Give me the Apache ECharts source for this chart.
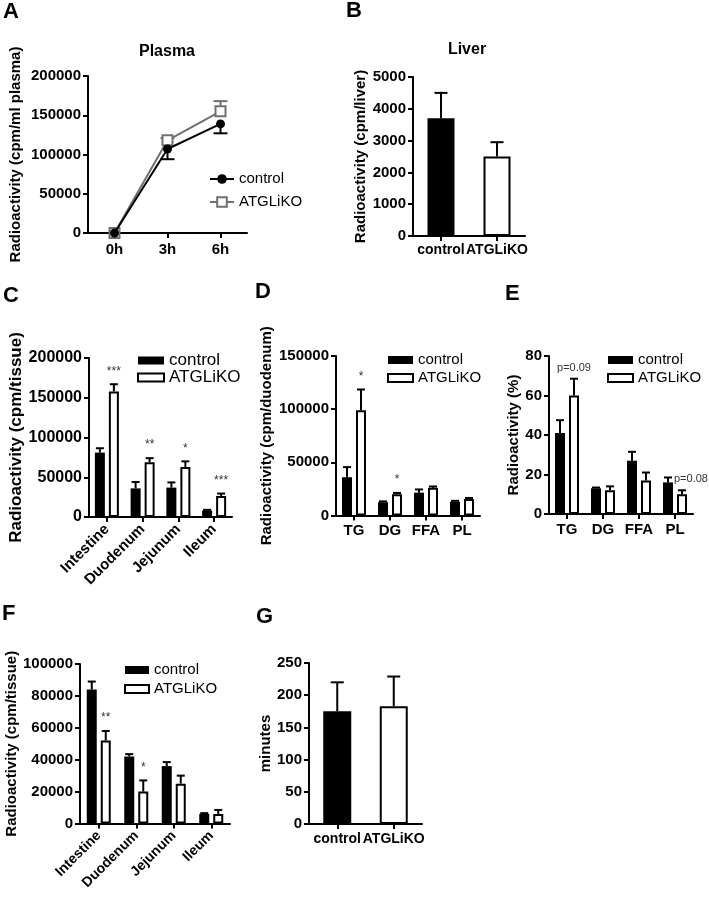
<!DOCTYPE html>
<html><head><meta charset="utf-8">
<script src="https://cdn.jsdelivr.net/npm/echarts@6/dist/echarts.min.js"></script>
<style>html,body{margin:0;padding:0;background:#fff}#c{width:709px;height:900px}</style>
</head><body><div id="c"></div>
<script>
// ---------- DATA ----------
const plasmaCats = ['0h', '3h', '6h'];
const plasmaControl = [0, 107000, 139000];
const plasmaControlErr = [0, 13000, 12000];
const plasmaKO = [0, 118000, 155000];
const plasmaKOErr = [0, 3000, 13000];

const liverCats = ['control', 'ATGLiKO'];
const liverValues = [3700, 2500];
const liverErr = [800, 450];

const tissueCats = ['Intestine', 'Duodenum', 'Jejunum', 'Ileum'];
const cControl = [81000, 36000, 37000, 8000];
const cControlErr = [5500, 8000, 6500, 1000];
const cKO = [158000, 69000, 63000, 26500];
const cKOErr = [9000, 5000, 7000, 3000];
const cStars = ['***', '**', '*', '***'];

const lipidCats = ['TG', 'DG', 'FFA', 'PL'];
const dControl = [36000, 12500, 21500, 13000];
const dControlErr = [9500, 800, 3000, 800];
const dKO = [99000, 20000, 26000, 15500];
const dKOErr = [19500, 1200, 1300, 1000];
const dStars = ['*', '*', '', ''];

const eControl = [41, 13, 27, 16];
const eControlErr = [6.5, 0.4, 4.5, 2.5];
const eKO = [60, 12, 17, 10];
const eKOErr = [8.5, 2, 4, 2];
const eNotes = ['p=0.09', '', '', 'p=0.08'];

const fControl = [84000, 42000, 36000, 6000];
const fControlErr = [5000, 1500, 2500, 500];
const fKO = [52000, 20000, 25000, 6000];
const fKOErr = [6000, 7000, 5000, 2500];
const fStars = ['**', '*', '', ''];

const gCats = ['control', 'ATGLiKO'];
const gValues = [175, 183];
const gErr = [45, 46];

// ---------- STYLE ----------
const FONT = '"Liberation Sans", Arial, Helvetica, sans-serif';
const BLACK = {color: '#000'};
const WHITE = {color: '#fff', borderColor: '#000', borderWidth: 2};
const eNoteAlign = ['center', '', '', 'left'];

const chart = echarts.init(document.getElementById('c'), null, {renderer: 'canvas'});

function vAxis(gi, max, interval, name, nameGap, fs, nfs) {
  return {
    type: 'value', gridIndex: gi, min: 0, max: max, interval: interval,
    name: name, nameLocation: 'middle', nameGap: nameGap, nameRotate: 90,
    nameTextStyle: {fontFamily: FONT, fontWeight: 'bold', fontSize: nfs, color: '#000'},
    axisLine: {show: true, lineStyle: {color: '#000', width: 2}},
    axisTick: {show: true, length: 5, lineStyle: {color: '#000', width: 2}},
    axisLabel: {fontFamily: FONT, fontWeight: 'bold', fontSize: fs, color: '#000', margin: 7,
      formatter: v => String(v)},
    splitLine: {show: false}
  };
}
function cAxis(gi, data, fs, rotate, margin) {
  return {
    type: 'category', gridIndex: gi, data: data,
    axisLine: {show: true, lineStyle: {color: '#000', width: 2}},
    axisTick: {show: true, alignWithLabel: true, length: 5, lineStyle: {color: '#000', width: 2}},
    axisLabel: {fontFamily: FONT, fontWeight: 'bold', fontSize: fs, color: '#000', margin: margin, rotate: rotate || 0, interval: 0},
    splitLine: {show: false}
  };
}
function errBars(gi, values, errs, o) {
  return {
    type: 'custom', xAxisIndex: gi, yAxisIndex: gi, z: o.z || 5, silent: true,
    data: values.map((v, i) => [i, v, errs[i]]),
    renderItem: function (params, api) {
      const i = api.value(0), v = api.value(1), e = api.value(2);
      const b = api.coord([i, v]);
      const t = api.coord([i, v + (o.dir || 1) * e]);
      const x = b[0] + (o.offset || 0);
      const col = o.color || '#000';
      const ch = [];
      if (e > 0) {
        ch.push({type: 'line', shape: {x1: x, y1: b[1], x2: x, y2: t[1]}, style: {stroke: col, lineWidth: 2}});
        ch.push({type: 'line', shape: {x1: x - o.cap / 2, y1: t[1], x2: x + o.cap / 2, y2: t[1]}, style: {stroke: col, lineWidth: 2}});
      }
      const note = o.notes ? o.notes[i] : '';
      if (note) {
        const al = o.align ? (o.align[i] || 'center') : 'center';
        ch.push({type: 'text', x: x + (al === 'left' ? -8 : 0), y: t[1] - o.noteGap,
          style: {text: note, fill: '#333', font: o.noteFont, align: al, verticalAlign: 'middle'}});
      }
      return {type: 'group', children: ch};
    }
  };
}
function barPair(gi, tag, ctrl, ko) {
  return [
    {name: 'control|' + tag, type: 'bar', xAxisIndex: gi, yAxisIndex: gi, data: ctrl,
      barWidth: 10, barGap: '40%', itemStyle: BLACK},
    {name: 'ATGLiKO|' + tag, type: 'bar', xAxisIndex: gi, yAxisIndex: gi, data: ko,
      barWidth: 10, barGap: '40%', itemStyle: WHITE}
  ];
}
function legend(tag, left, top, fs, textGap, iw, ih, gap, icon) {
  const l = {
    orient: 'vertical', left: left, top: top, padding: 0, selectedMode: false,
    data: ['control|' + tag, 'ATGLiKO|' + tag],
    formatter: n => n.split('|')[0],
    itemWidth: iw, itemHeight: ih, itemGap: gap, itemTextGap: textGap,
    textStyle: {fontFamily: FONT, fontSize: fs, color: '#000'}
  };
  if (icon) l.icon = icon;
  return l;
}
function txt(text, x, y, size, align) {
  return {type: 'text', x: x, y: y, silent: true,
    style: {text: text, font: 'bold ' + size + 'px ' + FONT, fill: '#000', align: align || 'left', verticalAlign: 'top'}};
}

const grids = [
  {left: 88, top: 76, width: 159, height: 157},     // A
  {left: 413, top: 77, width: 112, height: 159},    // B
  {left: 89, top: 358, width: 143, height: 159},    // C
  {left: 336, top: 356, width: 144, height: 159.5}, // D
  {left: 549, top: 356, width: 144, height: 158},   // E
  {left: 80, top: 664, width: 150, height: 159.5},  // F
  {left: 309, top: 663, width: 113, height: 161}    // G
];

const xAxes = [
  cAxis(0, plasmaCats, 15, 0, 9),
  cAxis(1, liverCats, 14, 0, 7),
  cAxis(2, tissueCats, 15, 45, 10),
  cAxis(3, lipidCats, 15, 0, 8),
  cAxis(4, lipidCats, 15, 0, 8),
  cAxis(5, tissueCats, 14, 45, 10),
  cAxis(6, gCats, 14, 0, 8)
];
const yAxes = [
  vAxis(0, 200000, 50000, 'Radioactivity (cpm/ml plasma)', 65, 15, 15),
  vAxis(1, 5000, 1000, 'Radioactivity (cpm/liver)', 40, 15, 15),
  vAxis(2, 200000, 50000, 'Radioactivity (cpm/tissue)', 64, 16, 17),
  vAxis(3, 150000, 50000, 'Radioactivity (cpm/duodenum)', 62, 15, 15),
  vAxis(4, 80, 20, 'Radioactivity (%)', 28, 15, 15),
  vAxis(5, 100000, 20000, 'Radioactivity (cpm/tissue)', 59, 15, 15),
  vAxis(6, 250, 50, 'minutes', 33, 15, 15)
];

const pairStyles = [BLACK, WHITE];
const series = [
  // A
  {name: 'control|A', type: 'line', xAxisIndex: 0, yAxisIndex: 0, data: plasmaControl,
    symbol: 'circle', symbolSize: 9, itemStyle: {color: '#000'}, lineStyle: {color: '#000', width: 2}, z: 4},
  {name: 'ATGLiKO|A', type: 'line', xAxisIndex: 0, yAxisIndex: 0, data: plasmaKO,
    symbol: 'emptyRect', symbolSize: 10, itemStyle: {color: '#707070', borderWidth: 2},
    lineStyle: {color: '#707070', width: 2}, z: 3},
  errBars(0, plasmaControl, plasmaControlErr, {dir: -1, cap: 14, color: '#000', z: 2}),
  errBars(0, plasmaKO, plasmaKOErr, {dir: 1, cap: 14, color: '#707070', z: 2}),
  // B
  {type: 'bar', xAxisIndex: 1, yAxisIndex: 1, barWidth: 27,
    data: liverValues.map((v, i) => ({value: v, itemStyle: pairStyles[i]}))},
  errBars(1, liverValues, liverErr, {cap: 13}),
  // C
  ...barPair(2, 'C', cControl, cKO),
  errBars(2, cControl, cControlErr, {offset: -7, cap: 8}),
  errBars(2, cKO, cKOErr, {offset: 7, cap: 8, notes: cStars, noteGap: 13, noteFont: '12px ' + FONT}),
  // D
  ...barPair(3, 'D', dControl, dKO),
  errBars(3, dControl, dControlErr, {offset: -7, cap: 8}),
  errBars(3, dKO, dKOErr, {offset: 7, cap: 8, notes: dStars, noteGap: 13, noteFont: '12px ' + FONT}),
  // E
  ...barPair(4, 'E', eControl, eKO),
  errBars(4, eControl, eControlErr, {offset: -7, cap: 8}),
  errBars(4, eKO, eKOErr, {offset: 7, cap: 8, notes: eNotes, align: eNoteAlign, noteGap: 11, noteFont: '11px ' + FONT}),
  // F
  ...barPair(5, 'F', fControl, fKO),
  errBars(5, fControl, fControlErr, {offset: -7, cap: 8}),
  errBars(5, fKO, fKOErr, {offset: 7, cap: 8, notes: fStars, noteGap: 13, noteFont: '12px ' + FONT}),
  // G
  {type: 'bar', xAxisIndex: 6, yAxisIndex: 6, barWidth: 28,
    data: gValues.map((v, i) => ({value: v, itemStyle: pairStyles[i]}))},
  errBars(6, gValues, gErr, {cap: 13})
];

const legends = [
  legend('A', 209, 171.5, 15, 11, 24, 12, 8),
  legend('C', 137, 352, 17, 10, 26, 8, 0, 'rect'),
  legend('D', 387, 352.5, 15, 11, 25, 8, 3, 'rect'),
  legend('E', 607, 352.5, 15, 11, 25, 8, 3, 'rect'),
  legend('F', 124, 662.5, 15, 13, 24, 8, 4, 'rect')
];

const graphics = [
  txt('A', 3, 1, 22), txt('B', 346, 0, 22), txt('C', 3, 285, 22), txt('D', 255, 281, 22),
  txt('E', 505, 283, 22), txt('F', 2, 603, 22), txt('G', 256, 606, 22),
  txt('Plasma', 167, 44, 16, 'center'), txt('Liver', 467, 42, 16, 'center')
];

chart.setOption({
  animation: false,
  backgroundColor: '#fff',
  grid: grids,
  xAxis: xAxes,
  yAxis: yAxes,
  legend: legends,
  graphic: graphics,
  series: series
});
</script>
</body></html>
